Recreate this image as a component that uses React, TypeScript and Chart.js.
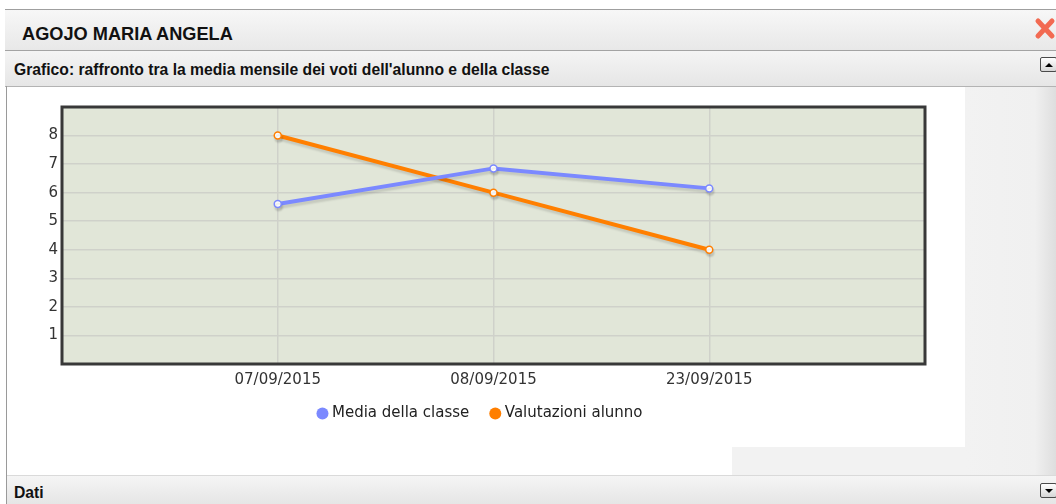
import React, { useEffect, useRef } from 'react';
import { Chart, registerables } from 'chart.js';

Chart.register(...registerables);

const categories = ['07/09/2015', '08/09/2015', '23/09/2015'];
const mediaClasse = [5.6, 6.85, 6.15];
const valutazioniAlunno = [8, 6, 4];
const seriesNames = ['Media della classe', 'Valutazioni alunno'];
const seriesColors = ['#7b89ff', '#ff7f00'];
const yTickValues = [1, 2, 3, 4, 5, 6, 7, 8];
const yMin = 0;
const yMax = 9;

const FONT = '"DejaVu Sans", Verdana, sans-serif';
const UI_FONT = '"Liberation Sans", Arial, sans-serif';
const LEGEND_SHIFT = 10;

const plotFrame = {
  id: 'plotFrame',
  afterLayout(chart: any) {
    const lg = chart.legend;
    if (lg) {
      lg.top -= LEGEND_SHIFT;
      lg.bottom -= LEGEND_SHIFT;
    }
  },
  beforeDraw(chart: any) {
    const { ctx, chartArea } = chart;
    const { left, top, right, bottom } = chartArea;
    ctx.save();
    ctx.fillStyle = '#e1e6d8';
    ctx.fillRect(left, top, right - left, bottom - top);
    ctx.restore();
  },
  beforeDatasetsDraw(chart: any) {
    const ctx = chart.ctx;
    ctx.save();
    ctx.shadowColor = 'rgba(0,0,0,0.12)';
    ctx.shadowOffsetX = 1;
    ctx.shadowOffsetY = 3;
    ctx.shadowBlur = 2;
  },
  afterDatasetsDraw(chart: any) {
    chart.ctx.restore();
  },
  afterDraw(chart: any) {
    const { ctx, chartArea } = chart;
    const { left, top, right, bottom } = chartArea;
    ctx.save();
    ctx.strokeStyle = '#383838';
    ctx.lineWidth = 3;
    ctx.strokeRect(left, top, right - left, bottom - top);
    ctx.restore();
  },
};

function LineChart() {
  const ref = useRef<HTMLCanvasElement | null>(null);
  useEffect(() => {
    if (!ref.current) return;
    const labels = ['', ...categories, ''];
    const series = [mediaClasse, valutazioniAlunno];
    const chart = new Chart(ref.current, {
      type: 'line',
      data: {
        labels,
        datasets: series.map((vals, i) => ({
          label: seriesNames[i],
          data: [null, ...vals, null],
          borderColor: seriesColors[i],
          backgroundColor: seriesColors[i],
          borderWidth: 4,
          pointRadius: 3.5,
          pointBorderWidth: 1.5,
          pointBackgroundColor: '#ffffff',
          pointBorderColor: seriesColors[i],
          pointStyle: 'circle',
          tension: 0,
          fill: false,
        })),
      },
      options: {
        animation: false,
        responsive: false,
        layout: { padding: { left: 30, right: 40, top: 20, bottom: 6 } },
        plugins: {
          tooltip: { enabled: false },
          legend: {
            position: 'bottom',
            labels: {
              usePointStyle: true,
              boxWidth: 4,
              boxHeight: 8.5,
              padding: 24,
              color: '#222',
              font: { family: FONT, size: 15 },
              generateLabels: (chart: any) =>
                Chart.defaults.plugins.legend.labels.generateLabels(chart).map((l: any, i: number) => ({
                  ...l,
                  fillStyle: seriesColors[i],
                  strokeStyle: seriesColors[i],
                  lineWidth: 0,
                })),
            },
          },
        },
        scales: {
          x: {
            type: 'category',
            offset: false,
            afterFit: (s: any) => { s.height = 28; },
            grid: { color: '#cfd1ca', lineWidth: 1.5, drawTicks: false },
            border: { display: false },
            ticks: {
              autoSkip: false,
              maxRotation: 0,
              padding: 7,
              color: '#333',
              font: { family: FONT, size: 15 },
            },
          },
          y: {
            min: yMin,
            max: yMax,
            afterFit: (s: any) => { s.width = 24; },
            grid: { color: '#cfd1ca', lineWidth: 1.5, drawTicks: false },
            border: { display: false },
            ticks: {
              stepSize: 1,
              padding: 4,
              color: '#333',
              font: { family: FONT, size: 15 },
              callback: (v: any) => (yTickValues.includes(v) ? String(v) : ''),
            },
          },
        },
      },
      plugins: [plotFrame],
    } as any);
    return () => chart.destroy();
  }, []);
  return <canvas ref={ref} width={957} height={360} style={{ display: 'block', width: 957, height: 360 }} />;
}

function ToggleButton({ up, top }: { up: boolean; top: number }) {
  return (
    <div
      style={{
        position: 'absolute', left: 1040, top, width: 15, height: 13,
        border: '1px solid #4a4a4a', borderRadius: 2,
        background: 'linear-gradient(#ffffff, #d6d6d6)',
        display: 'flex', alignItems: 'center', justifyContent: 'center',
      }}
    >
      <div
        style={{
          width: 0, height: 0,
          borderLeft: '4px solid transparent', borderRight: '4px solid transparent',
          ...(up ? { borderBottom: '4px solid #000' } : { borderTop: '4px solid #000' }),
        }}
      />
    </div>
  );
}

export default function App() {
  return (
    <div style={{ position: 'fixed', left: 0, top: 0, width: 1056, height: 504, overflow: 'hidden', background: '#fff', fontFamily: UI_FONT }}>
      {/* header */}
      <div style={{ position: 'absolute', left: 5, top: 9, width: 1051, height: 40, borderTop: '1px solid #9f9f9f', background: 'linear-gradient(#f7f7f7, #e8e8e8)' }} />
      <div style={{ position: 'absolute', left: 22, top: 24, lineHeight: '20px', fontSize: 18.2, fontWeight: 'bold', color: '#111' }}>AGOJO MARIA ANGELA</div>
      <svg style={{ position: 'absolute', left: 1034, top: 17 }} width={22} height={24}>
        <line x1={4} y1={4} x2={18} y2={19} stroke="#f26a52" strokeWidth={5} strokeLinecap="round" />
        <line x1={18} y1={4} x2={4} y2={19} stroke="#f26a52" strokeWidth={5} strokeLinecap="round" />
      </svg>
      {/* subheader */}
      <div style={{ position: 'absolute', left: 5, top: 50, width: 1051, height: 35, borderTop: '1px solid #a3a3a3', borderBottom: '1px solid #b3b3b3', background: 'linear-gradient(#f4f4f4, #e6e6e6)' }} />
      <div style={{ position: 'absolute', left: 14, top: 61, lineHeight: '18px', fontSize: 15.7, fontWeight: 'bold', color: '#111' }}>Grafico: raffronto tra la media mensile dei voti dell'alunno e della classe</div>
      <ToggleButton up top={57} />
      {/* left border */}
      <div style={{ position: 'absolute', left: 6, top: 86, width: 1, height: 418, background: '#9a9a9a' }} />
      {/* right gray column */}
      <div style={{ position: 'absolute', left: 965, top: 87, width: 91, height: 388, background: 'linear-gradient(to right, #f2f2f2 0px, #f0f0f0 70px, #dedede 91px)' }} />
      <div style={{ position: 'absolute', left: 732, top: 447, width: 233, height: 28, background: '#f2f2f2' }} />
      {/* chart */}
      <div style={{ position: 'absolute', left: 8, top: 87, width: 957, height: 360 }}>
        <LineChart />
      </div>
      {/* Dati bar */}
      <div style={{ position: 'absolute', left: 7, top: 475, width: 1049, height: 29, borderTop: '1px solid #dadada', background: 'linear-gradient(#f5f5f5, #e5e5e5)' }} />
      <div style={{ position: 'absolute', left: 14, top: 484, lineHeight: '18px', fontSize: 15.7, fontWeight: 'bold', color: '#111' }}>Dati</div>
      <ToggleButton up={false} top={483} />
    </div>
  );
}
